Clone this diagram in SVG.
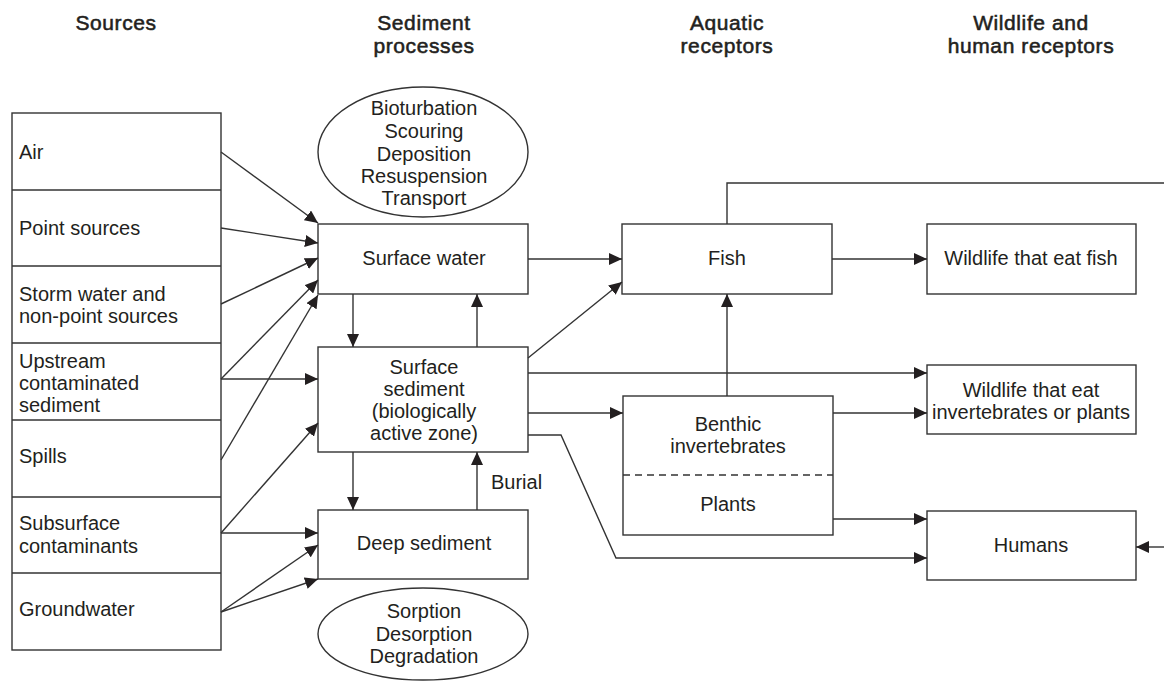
<svg xmlns="http://www.w3.org/2000/svg" width="1164" height="682" viewBox="0 0 1164 682">
<defs>
<marker id="ah" markerUnits="userSpaceOnUse" markerWidth="14" markerHeight="12" refX="13" refY="6" orient="auto">
<path d="M0,0 L13,6 L0,12 Z" fill="#231f20"/>
</marker>
<style>
text{font-family:"Liberation Sans",Arial,sans-serif;font-size:20px;fill:#231f20}
.h{font-size:21px;stroke:#231f20;stroke-width:0.55;letter-spacing:0.6px}
.c{text-anchor:middle}
.box{fill:#fff;stroke:#333;stroke-width:1.4}
.ln{fill:none;stroke:#333;stroke-width:1.4}
.ar{fill:none;stroke:#333;stroke-width:1.4;marker-end:url(#ah)}
</style>
</defs>
<rect width="1164" height="682" fill="#fff"/>

<g id="headers">
<text class="h c" x="116" y="30">Sources</text>
<text class="h c" x="424" y="30">Sediment</text>
<text class="h c" x="424" y="53">processes</text>
<text class="h c" x="727" y="30">Aquatic</text>
<text class="h c" x="727" y="53">receptors</text>
<text class="h c" x="1031" y="30">Wildlife and</text>
<text class="h c" x="1031" y="53">human receptors</text>
</g>

<g id="sources">
<rect class="box" x="12" y="113" width="209" height="537"/>
<line class="ln" x1="12" y1="190" x2="221" y2="190"/>
<line class="ln" x1="12" y1="266" x2="221" y2="266"/>
<line class="ln" x1="12" y1="343" x2="221" y2="343"/>
<line class="ln" x1="12" y1="420" x2="221" y2="420"/>
<line class="ln" x1="12" y1="497" x2="221" y2="497"/>
<line class="ln" x1="12" y1="573" x2="221" y2="573"/>
<text x="19" y="159">Air</text>
<text x="19" y="235">Point sources</text>
<text x="19" y="301">Storm water and</text>
<text x="19" y="323">non-point sources</text>
<text x="19" y="368">Upstream</text>
<text x="19" y="390">contaminated</text>
<text x="19" y="412">sediment</text>
<text x="19" y="463">Spills</text>
<text x="19" y="530">Subsurface</text>
<text x="19" y="553">contaminants</text>
<text x="19" y="616">Groundwater</text>
</g>

<g id="ellipse-top">
<ellipse class="box" cx="423" cy="152" rx="105" ry="65"/>
<text class="c" x="424" y="115">Bioturbation</text>
<text class="c" x="424" y="138">Scouring</text>
<text class="c" x="424" y="161">Deposition</text>
<text class="c" x="424" y="183">Resuspension</text>
<text class="c" x="424" y="205">Transport</text>
</g>

<g id="ellipse-bottom">
<ellipse class="box" cx="423" cy="634" rx="105" ry="46"/>
<text class="c" x="424" y="618">Sorption</text>
<text class="c" x="424" y="641">Desorption</text>
<text class="c" x="424" y="663">Degradation</text>
</g>

<g id="surface-water">
<rect class="box" x="318" y="224" width="210" height="70"/>
<text class="c" x="424" y="265">Surface water</text>
</g>

<g id="surface-sediment">
<rect class="box" x="318" y="347" width="210" height="105"/>
<text class="c" x="424" y="374">Surface</text>
<text class="c" x="424" y="396">sediment</text>
<text class="c" x="424" y="418">(biologically</text>
<text class="c" x="424" y="440">active zone)</text>
</g>

<g id="deep-sediment">
<rect class="box" x="318" y="510" width="210" height="69"/>
<text class="c" x="424" y="550">Deep sediment</text>
</g>

<g id="fish">
<rect class="box" x="622" y="224" width="210" height="70"/>
<text class="c" x="727" y="265">Fish</text>
</g>

<g id="benthic-plants">
<rect class="box" x="623" y="396" width="210" height="139"/>
<line x1="623" y1="475" x2="833" y2="475" stroke="#333" stroke-width="1.4" stroke-dasharray="7,5"/>
<text class="c" x="728" y="431">Benthic</text>
<text class="c" x="728" y="453">invertebrates</text>
<text class="c" x="728" y="511">Plants</text>
</g>

<g id="wildlife-fish">
<rect class="box" x="927" y="224" width="209" height="70"/>
<text class="c" x="1031" y="265">Wildlife that eat fish</text>
</g>

<g id="wildlife-inv">
<rect class="box" x="927" y="365" width="209" height="69"/>
<text class="c" x="1031" y="397">Wildlife that eat</text>
<text class="c" x="1031" y="419">invertebrates or plants</text>
</g>

<g id="humans">
<rect class="box" x="927" y="511" width="209" height="69"/>
<text class="c" x="1031" y="552">Humans</text>
</g>

<g id="connectors">
<line class="ar" x1="221" y1="152" x2="318" y2="223"/>
<line class="ar" x1="221" y1="228" x2="318" y2="243"/>
<line class="ar" x1="221" y1="304" x2="318" y2="258"/>
<line class="ar" x1="221" y1="379" x2="318" y2="280"/>
<line class="ar" x1="221" y1="460" x2="318" y2="295"/>
<line class="ar" x1="221" y1="379" x2="318" y2="379"/>
<line class="ar" x1="221" y1="533" x2="318" y2="423"/>
<line class="ar" x1="221" y1="533" x2="318" y2="533"/>
<line class="ar" x1="221" y1="612" x2="318" y2="545"/>
<line class="ar" x1="221" y1="612" x2="318" y2="579"/>
<line class="ar" x1="353" y1="294" x2="353" y2="347"/>
<line class="ar" x1="477" y1="347" x2="477" y2="294"/>
<line class="ar" x1="353" y1="452" x2="353" y2="510"/>
<line class="ar" x1="477" y1="510" x2="477" y2="452"/>
<text x="491" y="489">Burial</text>
<line class="ar" x1="528" y1="259" x2="622" y2="259"/>
<line class="ar" x1="528" y1="358" x2="622" y2="282"/>
<line class="ar" x1="528" y1="373" x2="927" y2="373"/>
<line class="ar" x1="528" y1="413" x2="623" y2="413"/>
<polyline class="ar" points="528,435 561,435 616,558 927,558"/>
<line class="ar" x1="727" y1="396" x2="727" y2="294"/>
<polyline class="ln" points="727,224 727,183 1164,183"/>
<line class="ar" x1="832" y1="259" x2="927" y2="259"/>
<line class="ar" x1="833" y1="413" x2="927" y2="413"/>
<line class="ar" x1="833" y1="519" x2="927" y2="519"/>
<line class="ar" x1="1164" y1="547" x2="1136" y2="547"/>
</g>
</svg>
